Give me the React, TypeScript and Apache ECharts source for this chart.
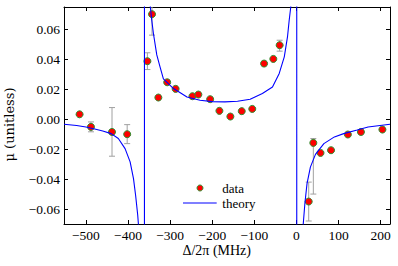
import React, { useEffect, useRef } from "react";
import * as echarts from "echarts";

// Measured data points (Δ/2π in MHz, μ unitless)
const dataX = [-515, -488, -438, -402, -354, -343, -328, -307, -287, -247, -233, -205, -183, -157, -130, -105, -77, -55, -40, 29, 40, 57, 82, 122, 153, 204];
const dataY = [0.0033, -0.0051, -0.0085, -0.01, 0.0388, 0.0702, 0.0145, 0.0247, 0.0203, 0.0154, 0.0165, 0.0134, 0.0056, 0.0018, 0.0054, 0.0069, 0.0372, 0.0403, 0.0495, -0.055, -0.0158, -0.0225, -0.0207, -0.0102, -0.0085, -0.0069];

// Error bars (x, lower, upper)
const errX = [-488, -438, -402, -354, -343, -77, -40, 29, 40];
const errLow = [-0.0084, -0.0247, -0.0163, 0.0332, 0.0562, 0.0357, 0.0455, -0.068, -0.05];
const errHigh = [-0.0018, 0.0078, -0.0036, 0.0444, 0.0842, 0.0387, 0.0528, -0.042, -0.0129];

// Theory curve (values beyond the frame are clipped)
const theoryX = [-552, -522, -500, -479, -460, -440, -423, -407, -395, -387, -382, -377, -374, -370, -366, -361.2,
  -360.8, -355, -350, -347, -343.6, -339.7, -331.7, -324, -316, -292, -260, -229, -200, -170, -140, -110, -81, -57, -41, -29, -21.4, -17.4, -13.6, -10, -5, 0.4,
  0.8, 5, 10, 14, 16, 20, 25, 33, 45, 65, 90, 112, 144, 170, 222];
const theoryY = [-0.0033, -0.0042, -0.0052, -0.0065, -0.0078, -0.0096, -0.0129, -0.0196, -0.0285, -0.0397, -0.0508, -0.064, -0.075, -0.1, -0.2, -1,
  1, 0.2, 0.1, 0.075, 0.066, 0.0573, 0.043, 0.035, 0.027, 0.0205, 0.0149, 0.0127, 0.0118, 0.0116, 0.012, 0.0134, 0.0172, 0.0216, 0.0306, 0.0417, 0.055, 0.066, 0.075, 0.1, 0.2, 1,
  -1, -0.25, -0.11, -0.08, -0.07, -0.056, -0.043, -0.032, -0.0235, -0.0163, -0.0118, -0.0096, -0.0072, -0.0052, -0.0033];

const xTicks = [-500, -400, -300, -200, -100, 0, 100, 200];
const yTicks = [-0.06, -0.04, -0.02, 0.0, 0.02, 0.04, 0.06];

const SERIF = "Liberation Serif";
const WIDE_SERIF = "DejaVu Serif";
const MINUS = "\u2212";

export default function App() {
  const ref = useRef<HTMLDivElement>(null);
  useEffect(() => {
    if (!ref.current) return;
    const chart = echarts.init(ref.current, null, { renderer: "svg" });
    const axisLine = { show: true, onZero: false, lineStyle: { color: "#000", width: 1 } };
    const tick = (vals: number[]) => ({ show: true, inside: true, length: 4, customValues: vals, lineStyle: { color: "#000", width: 1 } });
    const xFmt = (v: number) => (v < 0 ? MINUS : "") + Math.abs(Math.round(v)).toString();
    const yFmt = (v: number) => (v < -1e-9 ? MINUS : "") + Math.abs(v).toFixed(2);
    const option: any = {
      animation: false,
      backgroundColor: "#fff",
      grid: { left: 64, top: 7, right: 8, bottom: 42, containLabel: false, outerBoundsMode: "none" },
      xAxis: [
        {
          type: "value", min: -552, max: 222, position: "bottom",
          axisLine, axisTick: tick(xTicks), splitLine: { show: false },
          axisLabel: { customValues: xTicks, formatter: xFmt, margin: 4, fontFamily: SERIF, fontSize: 13.5, color: "#000" },
        },
        {
          type: "value", min: -552, max: 222, position: "top",
          axisLine, axisTick: tick(xTicks), splitLine: { show: false }, axisLabel: { show: false },
        },
      ],
      yAxis: [
        {
          type: "value", min: -0.07, max: 0.075, position: "left",
          axisLine, axisTick: tick(yTicks), splitLine: { show: false },
          axisLabel: { customValues: yTicks, formatter: yFmt, margin: 4, fontFamily: SERIF, fontSize: 13.5, color: "#000" },
        },
        {
          type: "value", min: -0.07, max: 0.075, position: "right",
          axisLine, axisTick: tick(yTicks), splitLine: { show: false }, axisLabel: { show: false },
        },
      ],
      series: [
        {
          type: "custom",
          xAxisIndex: 0, yAxisIndex: 0,
          clip: true, z: 1,
          encode: { x: 0, y: [1, 2] },
          data: errX.map((x, i) => [x, errLow[i], errHigh[i]]),
          renderItem: (params: any, api: any) => {
            const x = api.value(0);
            const p1 = api.coord([x, api.value(1)]);
            const p2 = api.coord([x, api.value(2)]);
            const cw = 3;
            const style = { stroke: "#a0a0a0", lineWidth: 1 };
            return {
              type: "group",
              children: [
                { type: "line", shape: { x1: p1[0], y1: p1[1], x2: p2[0], y2: p2[1] }, style },
                { type: "line", shape: { x1: p1[0] - cw, y1: p1[1], x2: p1[0] + cw, y2: p1[1] }, style },
                { type: "line", shape: { x1: p2[0] - cw, y1: p2[1], x2: p2[0] + cw, y2: p2[1] }, style },
              ],
            };
          },
        },
        {
          type: "scatter", name: "data",
          xAxisIndex: 0, yAxisIndex: 0, z: 3,
          symbol: "circle", symbolSize: 7,
          itemStyle: { color: "#ff0000", borderColor: "#2f8f2f", borderWidth: 1, opacity: 1 },
          data: dataX.map((x, i) => [x, dataY[i]]),
        },
        {
          type: "line", name: "theory",
          xAxisIndex: 0, yAxisIndex: 0, z: 4,
          showSymbol: false, symbol: "none", clip: true,
          lineStyle: { color: "#0000ff", width: 1.1 },
          data: theoryX.map((x, i) => [x, theoryY[i]]),
        },
      ],
      graphic: [
        {
          type: "text", x: 9.5, y: 124.5, rotation: Math.PI / 2,
          style: { text: "μ (unitless)", fontFamily: WIDE_SERIF, fontSize: 13, fill: "#000", align: "center", verticalAlign: "middle" },
        },
        {
          type: "text", x: 216.7, y: 250.7,
          style: { text: "Δ/2π (MHz)", fontFamily: SERIF, fontSize: 14, fill: "#000", align: "center", verticalAlign: "middle" },
        },
        {
          type: "circle", shape: { cx: 200, cy: 188, r: 3 },
          style: { fill: "#ff0000", stroke: "#2f8f2f", lineWidth: 1 },
        },
        {
          type: "text", x: 222.3, y: 188,
          style: { text: "data", fontFamily: SERIF, fontSize: 13, fill: "#000", align: "left", verticalAlign: "middle" },
        },
        {
          type: "line", shape: { x1: 183, y1: 203, x2: 216.7, y2: 203 },
          style: { stroke: "#0000ff", lineWidth: 1.1 },
        },
        {
          type: "text", x: 222.3, y: 203,
          style: { text: "theory", fontFamily: SERIF, fontSize: 13, fill: "#000", align: "left", verticalAlign: "middle" },
        },
      ],
    };
    chart.setOption(option);
    return () => chart.dispose();
  }, []);
  return <div ref={ref} style={{ position: "fixed", left: 0, top: 0, width: 398, height: 266, background: "#fff" }} />;
}
